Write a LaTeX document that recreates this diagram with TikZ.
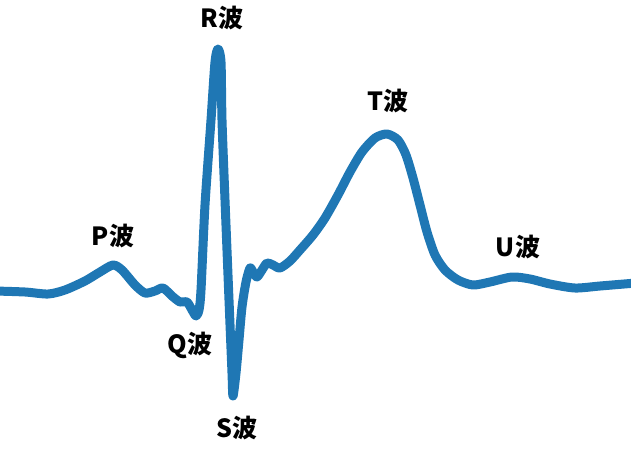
\documentclass[tikz,border=0pt]{standalone}
\usepackage{fontspec}
\newfontfamily\cjk{Noto Sans CJK SC}
\definecolor{ecgblue}{HTML}{1F77B4}
\begin{document}
\begin{tikzpicture}[x=1pt,y=-1pt,
  wave/.style={ecgblue,line width=9pt,line cap=round,line join=round},
  lbl/.style={font=\cjk\bfseries\fontsize{25}{30}\selectfont,inner sep=0pt,text=black}]
\useasboundingbox (0,0) rectangle (631,455);
\draw[wave] plot[smooth,tension=0.45] coordinates {
(-5,291) (25,292) (48,294) (65,290) (85,281) (100,272) (113,265) (122,270)
(135,285) (145,293) (155,291) (163,288) (172,296) (180,302) (187,302)
(192,310) (196,316) (199,310) (201,290) (205,205) (211,120) (215,62) (218,49)
(221,62) (222,120) (225,200) (229,300) (232,373) (233,396) (236,373) (239,340)
(242,307) (246,282) (250,268) (253,272) (257,277) (262,270) (267,263)
(273,265) (280,268) (290,261) (300,250) (313,235) (325,218) (338,195)
(350,172) (362,152) (375,138) (387,134) (398,140) (406,155) (413,178)
(420,205) (427,232) (435,255) (445,270) (458,280) (473,285) (490,282)
(512,277) (530,279) (550,284) (575,288) (600,286) (636,283)};
\node[lbl] (r) at (222,18) {R波};
\node[lbl] (t) at (388,101) {T波};
\node[lbl] (p) at (113,236) {P波};
\node[lbl] (u) at (518,247) {U波};
\node[lbl] (q) at (190,345) {Q波};
\node[lbl] (s) at (237,428) {S波};
\end{tikzpicture}
\end{document}
